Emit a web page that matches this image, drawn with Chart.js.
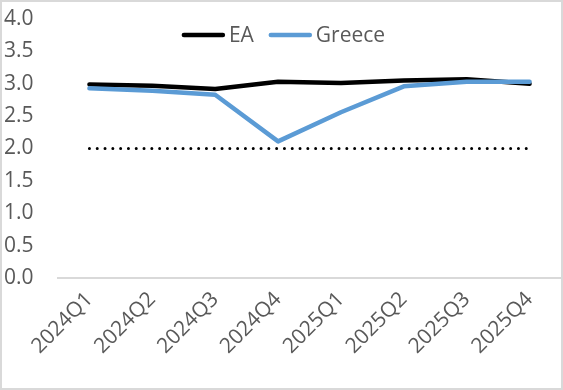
<!DOCTYPE html>
<html>
<head>
<meta charset="utf-8">
<script src="https://cdn.jsdelivr.net/npm/chart.js@4/dist/chart.umd.min.js"></script>
<style>
  html, body { margin: 0; padding: 0; background: #fff; }
  #wrap { width: 563px; height: 390px; position: relative; }
</style>
</head>
<body>
<div id="wrap"><canvas id="c" width="563" height="390"></canvas></div>
<script>
const categories = ['2024Q1','2024Q2','2024Q3','2024Q4','2025Q1','2025Q2','2025Q3','2025Q4'];
const eaValues = [2.99, 2.97, 2.92, 3.03, 3.01, 3.05, 3.07, 3.00];
const greeceValues = [2.93, 2.89, 2.83, 2.11, 2.56, 2.96, 3.03, 3.03];
const targetValues = [2.0, 2.0, 2.0, 2.0, 2.0, 2.0, 2.0, 2.0];
const yTicks = [0, 0.5, 1, 1.5, 2, 2.5, 3, 3.5, 4];

const FONT = "'Open Sans', 'Liberation Sans', sans-serif";
const TEXT = '#595959';

const bgBorder = {
  id: 'bgBorder',
  beforeDraw(chart) {
    const ctx = chart.ctx;
    ctx.save();
    ctx.fillStyle = '#fff';
    ctx.fillRect(0, 0, chart.width, chart.height);
    ctx.strokeStyle = '#d9d9d9';
    ctx.lineWidth = 2;
    ctx.strokeRect(1, 1, chart.width - 2, chart.height - 2);
    ctx.restore();
  }
};

const customLegend = {
  id: 'customLegend',
  afterDraw(chart) {
    const ctx = chart.ctx;
    const items = chart.data.datasets.filter(d => d.showInLegend);
    ctx.save();
    ctx.font = '21px ' + FONT;
    const lineW = 43, gapText = 4, gapItem = 15;
    let total = 0;
    items.forEach((d, i) => {
      total += lineW + gapText + ctx.measureText(d.label).width + (i < items.length - 1 ? gapItem : 0);
    });
    let x = 283.5 - total / 2;
    const y = 35;
    items.forEach(d => {
      ctx.strokeStyle = d.borderColor;
      ctx.lineWidth = 4.5;
      ctx.lineCap = 'round';
      ctx.beginPath();
      ctx.moveTo(x + 2, y);
      ctx.lineTo(x + lineW - 2, y);
      ctx.stroke();
      x += lineW + gapText;
      ctx.fillStyle = TEXT;
      ctx.textBaseline = 'middle';
      ctx.textAlign = 'left';
      ctx.fillText(d.label, x, y + 1);
      x += ctx.measureText(d.label).width + gapItem;
    });
    ctx.restore();
  }
};

new Chart(document.getElementById('c'), {
  type: 'line',
  data: {
    labels: categories,
    datasets: [
      {
        label: 'EA', data: eaValues, borderColor: '#000000', borderWidth: 4.5,
        pointRadius: 0, tension: 0, borderCapStyle: 'round', borderJoinStyle: 'round',
        order: 1, showInLegend: true
      },
      {
        label: 'Greece', data: greeceValues, borderColor: '#5B9BD5', borderWidth: 4.5,
        pointRadius: 0, tension: 0, borderCapStyle: 'round', borderJoinStyle: 'round',
        order: 0, showInLegend: true
      },
      {
        label: 'Target', data: targetValues, borderColor: '#000000', borderWidth: 3,
        borderDash: [0, 7.8], borderCapStyle: 'round',
        pointRadius: 0, tension: 0, order: 2, showInLegend: false
      }
    ]
  },
  options: {
    responsive: false,
    animation: false,
    devicePixelRatio: 1,
    layout: { padding: { left: 4, right: 2, top: 19, bottom: 0 } },
    plugins: { legend: { display: false }, tooltip: { enabled: false } },
    scales: {
      x: {
        offset: true,
        grid: { display: false, drawTicks: false },
        border: { display: true, color: '#d9d9d9', width: 2 },
        ticks: {
          color: TEXT, font: { family: FONT, size: 21 },
          minRotation: 45, maxRotation: 45, padding: 9, autoSkip: false
        },
        afterFit(scale) { scale.height = 112; }
      },
      y: {
        min: 0, max: 4,
        grid: { display: false, drawTicks: false },
        border: { display: false },
        afterBuildTicks(scale) { scale.ticks = yTicks.map(v => ({ value: v })); },
        ticks: {
          color: TEXT, font: { family: FONT, size: 21 }, crossAlign: 'far',
          callback: v => Number(v).toFixed(1)
        },
        afterFit(scale) { scale.width = 54; }
      }
    }
  },
  plugins: [bgBorder, customLegend]
});
</script>
</body>
</html>
